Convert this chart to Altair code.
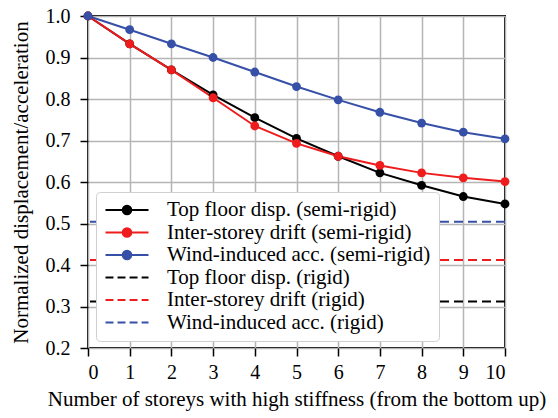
import altair as alt
import pandas as pd

storeys = [0, 1, 2, 3, 4, 5, 6, 7, 8, 9, 10]
top_disp_semi = [1.0, 0.933, 0.870, 0.810, 0.755, 0.705, 0.662, 0.622, 0.592, 0.565, 0.547]
drift_semi = [1.0, 0.933, 0.870, 0.803, 0.735, 0.693, 0.662, 0.640, 0.622, 0.610, 0.601]
acc_semi = [1.0, 0.967, 0.933, 0.900, 0.865, 0.830, 0.798, 0.768, 0.742, 0.720, 0.704]

rigid_values = [0.312, 0.412, 0.504]
rigid_names = ["Top floor disp. (rigid)", "Inter-storey drift (rigid)", "Wind-induced acc. (rigid)"]
semi_names = ["Top floor disp. (semi-rigid)", "Inter-storey drift (semi-rigid)", "Wind-induced acc. (semi-rigid)"]

colors = ["#000000", "#ee1c1c", "#3650a8"]

all_names = semi_names + rigid_names
all_colors = colors + colors

rows = []
for name, vals in zip(semi_names, [top_disp_semi, drift_semi, acc_semi]):
    for s, v in zip(storeys, vals):
        rows.append({"storeys": s, "value": v, "series": name})
semi_df = pd.DataFrame(rows)
rigid_df = pd.DataFrame({"value": rigid_values, "series": rigid_names})
legend_df = pd.DataFrame({"series": all_names, "storeys": [0] * 6, "value": [-1.0] * 6})

FONT = "Liberation Serif"

line_path = "M-1,0L1,0M0.2,0A0.2,0.2,0,1,1,-0.2,0A0.2,0.2,0,1,1,0.2,0Z"
dash_path = "M-1,0L-0.63,0M-0.44,0L-0.07,0M0.12,0L0.49,0M0.68,0L1,0"
shapes = [line_path] * 3 + [dash_path] * 3

x_enc = alt.X("storeys:Q", scale=alt.Scale(domain=[0, 10], nice=False),
              axis=alt.Axis(values=storeys,
                            title="Number of storeys with high stiffness (from the bottom up)"))
y_scale = alt.Scale(domain=[0.2, 1.0], nice=False)
y_axis = alt.Axis(values=[0.2, 0.3, 0.4, 0.5, 0.6, 0.7, 0.8, 0.9, 1.0], format=".1f",
                  title="Normalized displacement/acceleration")

color_scale = alt.Scale(domain=all_names, range=all_colors)

lines = alt.Chart(semi_df).mark_line(strokeWidth=2).encode(
    x=x_enc,
    y=alt.Y("value:Q", scale=y_scale, axis=y_axis),
    color=alt.Color("series:N", scale=color_scale),
)
points = alt.Chart(semi_df).mark_circle(size=78, opacity=1).encode(
    x=x_enc,
    y=alt.Y("value:Q", scale=y_scale, axis=y_axis),
    color=alt.Color("series:N", scale=color_scale),
)
rules = alt.Chart(rigid_df).mark_rule(strokeWidth=2, strokeDash=[9, 5]).encode(
    y=alt.Y("value:Q", scale=y_scale, axis=y_axis),
    color=alt.Color("series:N", scale=color_scale),
)

legend = alt.Legend(
    title=None, orient="none", legendX=8, legendY=176,
    symbolSize=1850, symbolStrokeWidth=2, clipHeight=20, rowPadding=1.5,
    labelFont=FONT, labelFontSize=21, labelLimit=400,
    labelOffset=17, padding=8, fillColor="white", strokeColor="#d0d0d0",
    cornerRadius=4,
)
dummy = alt.Chart(legend_df).mark_point(filled=True, clip=True, opacity=1).encode(
    x=x_enc,
    y=alt.Y("value:Q", scale=y_scale, axis=y_axis),
    fill=alt.Fill("series:N", scale=alt.Scale(domain=all_names, range=all_colors), legend=legend),
    stroke=alt.Stroke("series:N", scale=alt.Scale(domain=all_names, range=all_colors), legend=legend),
    shape=alt.Shape("series:N", scale=alt.Scale(domain=all_names, range=shapes), legend=legend),
)

chart = alt.layer(rules, lines, points, dummy).properties(
    width=417, height=332
).configure_view(
    stroke="black", strokeWidth=2
).configure_axis(
    labelFont=FONT, titleFont=FONT, labelFontSize=20, titleFontSize=21,
    labelColor="black", titleColor="black", titleFontWeight="normal",
    domain=False, tickColor="black", tickWidth=1.5, tickSize=8,
    gridColor="#b5b5b5", gridWidth=1.5, labelPadding=6,
).configure_axisX(
    titlePadding=6
).configure_axisY(
    titlePadding=14, labelPadding=10
).configure_legend(
    labelFont=FONT
).properties(padding={"left": 10, "top": 6, "right": 10, "bottom": 5})

chart.save("out.html", embed_options={"renderer": "svg", "actions": False})
